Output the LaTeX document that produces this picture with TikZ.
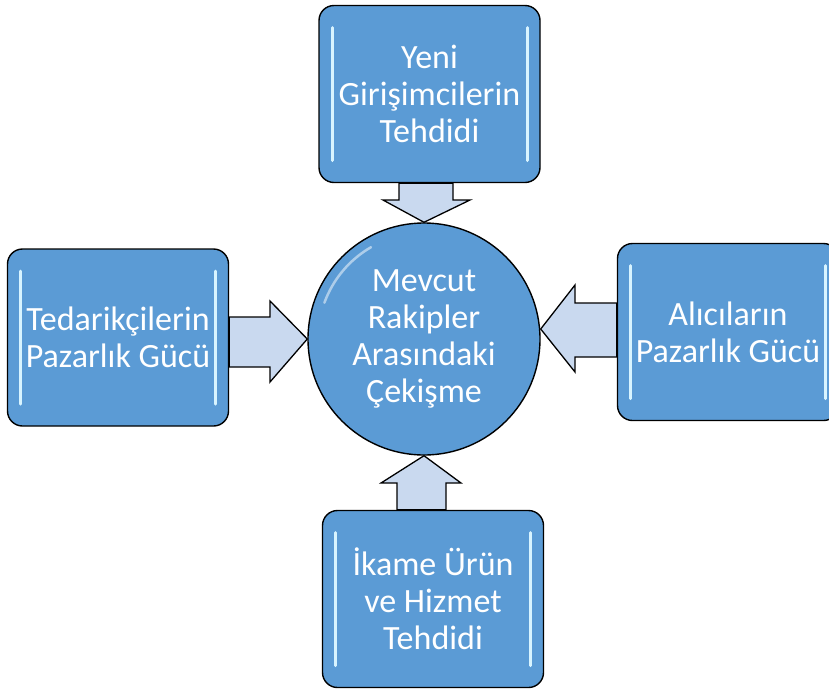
\documentclass[tikz,border=0pt]{standalone}
\usepackage{fontspec}
\setmainfont{Carlito}
\usepackage{tikz}
\usetikzlibrary{calc}
\definecolor{forceblue}{HTML}{5B9BD5}
\definecolor{arrowfill}{HTML}{C9D9EF}
\definecolor{glowline}{HTML}{D8F4FF}

\begin{document}
\begin{tikzpicture}[x=1pt, y=-1pt,
    forcebox/.style={rectangle, draw=black, fill=forceblue, line width=1.4pt, rounded corners=15pt,
        minimum width=221pt, minimum height=177pt, inner sep=0pt, align=center, text=white,
        font=\fontsize{34}{37}\selectfont,
        path picture={
            \draw[glowline, line width=3pt, line cap=round]
                ($(path picture bounding box.north west)+(13,22)$) -- ($(path picture bounding box.south west)+(13,-22)$);
            \draw[glowline, line width=3pt, line cap=round]
                ($(path picture bounding box.north east)+(-13,22)$) -- ($(path picture bounding box.south east)+(-13,-22)$);
        }},
    core/.style={circle, draw=black, fill=forceblue, line width=1.4pt, minimum size=232pt, inner sep=0pt,
        align=center, text=white, font=\fontsize{34}{37}\selectfont},
    blockarrow/.style={draw=black, fill=arrowfill, line width=1.3pt, line join=miter}
]
\useasboundingbox (0,0) rectangle (829,689);

% center and the four forces
\node[core] (rivalry) at (424,339) {Mevcut\\Rakipler\\Arasındaki\\Çekişme};
\node[forcebox] (entrants) at (429.5,94) {Yeni\\Girişimcilerin\\Tehdidi};
\node[forcebox] (suppliers) at (118,337.5) {Tedarikçilerin\\Pazarlık Gücü};
\node[forcebox] (buyers) at (728,332) {Alıcıların\\Pazarlık Gücü};
\node[forcebox] (substitutes) at (433,599) {İkame Ürün\\ve Hizmet\\Tehdidi};

% gloss on the circle
\draw[white, opacity=0.5, line width=2.5pt, line cap=round]
    ($(rivalry.center)+(200:106)$) arc[start angle=200, end angle=240, radius=106];

% block arrows pointing into the center
\draw[blockarrow] (399,0 |- entrants.south) -- (399,200) -- (383,200) -- (rivalry.north)
    -- (470,200) -- (453,200) -- (453,0 |- entrants.south) -- cycle;
\draw[blockarrow] (suppliers.east |- 0,317) -- (270,317) -- (270,301) -- (rivalry.west)
    -- (270,382) -- (270,367) -- (suppliers.east |- 0,367) -- cycle;
\draw[blockarrow] (buyers.west |- 0,303) -- (575,303) -- (575,285) -- (rivalry.east |- 0,329)
    -- (575,372) -- (575,357) -- (buyers.west |- 0,357) -- cycle;
\draw[blockarrow] (397,0 |- substitutes.north) -- (397,483) -- (381,483) -- (rivalry.south)
    -- (461,483) -- (446,483) -- (446,0 |- substitutes.north) -- cycle;

\end{tikzpicture}
\end{document}
